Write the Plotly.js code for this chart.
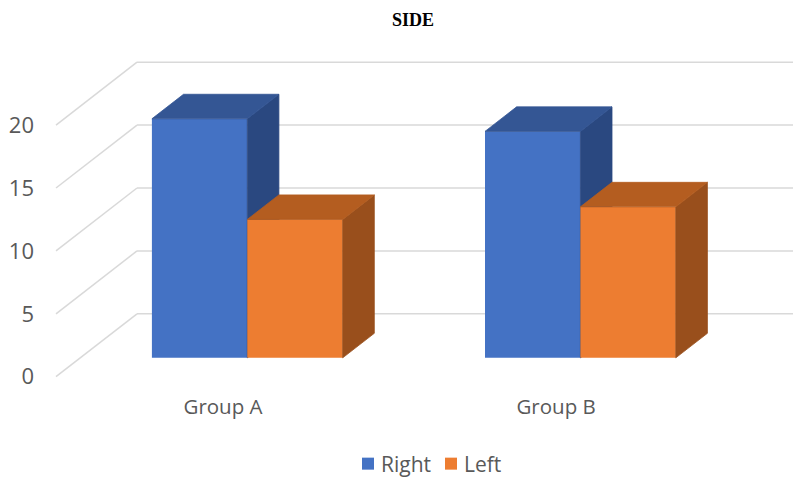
<!DOCTYPE html>
<html>
<head>
<meta charset="utf-8">
<script src="https://cdn.plot.ly/plotly-3.0.1.min.js"></script>
<style>html,body{margin:0;padding:0;background:#fff}#chart{width:793px;height:479px}</style>
</head>
<body>
<div id="chart"></div>
<script>
// Clustered column values
const categories = ['Group A', 'Group B'];
const rightValues = [19, 18];
const leftValues = [11, 12];
const valueTicks = [0, 5, 10, 15, 20];

// Oblique projection: depth z (0 front of the floor, 1 back wall) shifts a point
// right in category units and up in value units.
const DEPTH_X = 0.2432;
const DEPTH_Y = 5;
const BAR_FRONT = 0.3;
const BAR_BACK = 0.69;
const BAR_WIDTH = 0.2864;
const project = (x, v, z) => [x + z * DEPTH_X, v + z * DEPTH_Y];

const palette = {
  Right: { front: '#4472C4', top: '#345694', side: '#2A4880' },
  Left: { front: '#ED7D31', top: '#B45D20', side: '#994F1C' }
};

// A thin outline in the fill colour closes the hairline seam against the bar front
function polygon(points, color, xa, ya) {
  const pts = points.concat([points[0]]);
  return {
    type: 'scatter', mode: 'lines', fill: 'toself', fillcolor: color,
    x: pts.map(p => p[0]), y: pts.map(p => p[1]),
    line: { width: 0.8, color: color }, hoverinfo: 'skip', showlegend: false,
    xaxis: xa, yaxis: ya
  };
}

// One column series: the front faces are real bars, tops and sides are parallelograms.
function seriesTraces(name, values, barOffset, xa, ya) {
  const c = palette[name];
  const xs = categories.map((_, i) => i);
  const faces = [];
  values.forEach((v, i) => {
    const left = i + barOffset, right = left + BAR_WIDTH;
    faces.push(polygon([
      project(right, 0, BAR_FRONT), project(right, v, BAR_FRONT),
      project(right, v, BAR_BACK), project(right, 0, BAR_BACK)
    ], c.side, xa, ya));
    faces.push(polygon([
      project(left, v, BAR_FRONT), project(right, v, BAR_FRONT),
      project(right, v, BAR_BACK), project(left, v, BAR_BACK)
    ], c.top, xa, ya));
  });
  const bars = {
    type: 'bar', name: name, y: values,
    x: xs.map(i => project(i, 0, BAR_FRONT)[0]),
    base: values.map(() => project(0, 0, BAR_FRONT)[1]),
    width: BAR_WIDTH, offset: barOffset,
    marker: { color: c.front, line: { width: 0 } },
    textposition: 'none',
    xaxis: xa, yaxis: ya
  };
  return [bars].concat(faces);
}

const traces = seriesTraces('Right', rightValues, -BAR_WIDTH, 'x', 'y')
  .concat(seriesTraces('Left', leftValues, 0, 'x2', 'y2'));

// Plot frame and scales, in window pixels
const frame = { left: 35, right: 793, top: 40, bottom: 392 };
const pxPerCategory = 333.1, pxPerValue = 12.58;
const category0Px = 223, value0Px = 376.7;
const xRange = [(frame.left - category0Px) / pxPerCategory, (frame.right - category0Px) / pxPerCategory];
const yRange = [(value0Px - frame.bottom) / pxPerValue, (value0Px - frame.top) / pxPerValue];

// Gridlines run along the floor-side diagonal, then across the back wall
const gridShapes = [];
valueTicks.forEach(v => {
  const frontX = (56 - category0Px) / pxPerCategory;
  const p0 = project(frontX, v, 0), p1 = project(frontX, v, 1);
  const line = { color: '#D9D9D9', width: 1.5 };
  gridShapes.push({ type: 'line', layer: 'below', xref: 'x', yref: 'y', x0: p0[0], y0: p0[1], x1: p1[0], y1: p1[1], line: line });
  gridShapes.push({ type: 'line', layer: 'below', xref: 'x', yref: 'y', x0: p1[0], y0: p1[1], x1: xRange[1], y1: p1[1], line: line });
});

const textFont = { family: '"Open Sans", "Noto Sans", sans-serif', size: 20.5, color: '#595959' };
const valueFont = Object.assign({}, textFont, { size: 22 });
const legendFont = Object.assign({}, textFont, { size: 21 });
const hiddenAxis = { visible: false, fixedrange: true };

const layout = {
  width: 793, height: 479,
  margin: { l: frame.left, r: 793 - frame.right, t: frame.top, b: 479 - frame.bottom, pad: 0 },
  paper_bgcolor: '#fff', plot_bgcolor: 'rgba(0,0,0,0)',
  title: {
    text: '<b>SIDE</b>',
    font: { family: '"Liberation Serif", serif', size: 18, color: '#000' },
    x: 413 / 793, xanchor: 'center', y: 1 - 20 / 479, yanchor: 'middle'
  },
  xaxis: {
    range: xRange, tickmode: 'array', tickvals: categories.map((_, i) => i), ticktext: categories,
    showgrid: false, zeroline: false, showline: false, ticks: '', tickfont: textFont, fixedrange: true
  },
  yaxis: {
    range: yRange, tickmode: 'array', tickvals: valueTicks, ticktext: valueTicks.map(String),
    showgrid: false, zeroline: false, showline: false, ticks: '', tickfont: valueFont, fixedrange: true
  },
  xaxis2: Object.assign({ overlaying: 'x', range: xRange }, hiddenAxis),
  yaxis2: Object.assign({ overlaying: 'y', range: yRange }, hiddenAxis),
  shapes: gridShapes,
  showlegend: true,
  legend: {
    orientation: 'h', xref: 'container', yref: 'container',
    x: 431 / 793, xanchor: 'center', y: 1 - 464 / 479, yanchor: 'middle',
    font: legendFont, bgcolor: 'rgba(0,0,0,0)'
  },
  barmode: 'overlay'
};

// Legend keys sit right next to their labels, tighter than the default item spacing
const legendKeyCentres = [368, 451];
const legendLabelGap = 18;

Plotly.newPlot('chart', traces, layout, { displayModeBar: false, staticPlot: true }).then(gd => {
  gd.querySelectorAll('.legend .traces').forEach((item, i) => {
    const key = item.querySelector('.legendpoints path') || item.querySelector('.legendsymbols path');
    const box = key.getBoundingClientRect();
    const keyCentre = box.left + box.width / 2;
    const m = /translate\(([-\d.]+)[ ,]*([-\d.]+)?\)/.exec(item.getAttribute('transform') || '');
    const tx = m ? parseFloat(m[1]) : 0, ty = m && m[2] ? parseFloat(m[2]) : 0;
    item.setAttribute('transform', 'translate(' + (tx + legendKeyCentres[i] - keyCentre) + ',' + ty + ')');
    item.querySelector('.legendtext').setAttribute('x', 15 + legendLabelGap);
  });
  const clip = gd.querySelector('.legend .scrollbox');
  if (clip) clip.removeAttribute('clip-path');
});
</script>
</body>
</html>
